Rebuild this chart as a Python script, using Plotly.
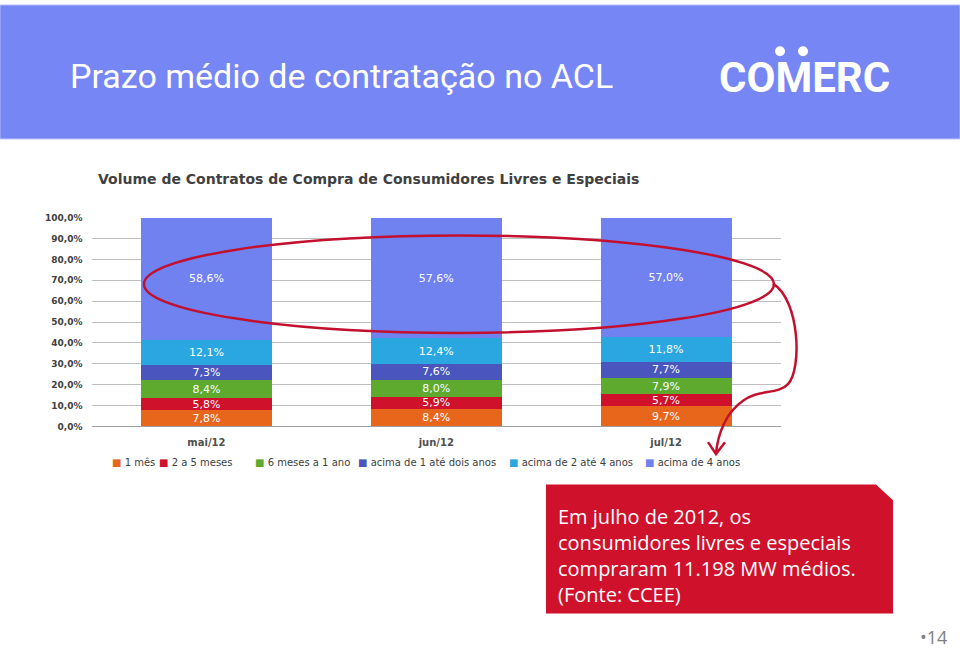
import plotly.graph_objects as go

# ---------------- data ----------------
categories = ["mai/12", "jun/12", "jul/12"]
series_names = ["1 mês", "2 a 5 meses", "6 meses a 1 ano",
                "acima de 1 até dois anos", "acima de 2 até 4 anos", "acima de 4 anos"]
v_1mes = [7.8, 8.4, 9.7]
v_2a5 = [5.8, 5.9, 5.7]
v_6m1a = [8.4, 8.0, 7.9]
v_1a2 = [7.3, 7.6, 7.7]
v_2a4 = [12.1, 12.4, 11.8]
v_4mais = [58.6, 57.6, 57.0]
series_values = [v_1mes, v_2a5, v_6m1a, v_1a2, v_2a4, v_4mais]
y_ticks = [0, 10, 20, 30, 40, 50, 60, 70, 80, 90, 100]
y_tick_labels = ["0,0%", "10,0%", "20,0%", "30,0%", "40,0%", "50,0%",
                 "60,0%", "70,0%", "80,0%", "90,0%", "100,0%"]

colors = ["#E8661C", "#D0112B", "#5DAA2F", "#4B55BE", "#2AA7E0", "#7081F0"]
legend_x_px = [110, 157, 253, 356, 507, 643]

W, H = 960, 650


def px(x):
    return x / W


def py(y):
    return 1 - y / H


def pt(p):
    return "%.5f,%.5f" % (px(p[0]), py(p[1]))


fig = go.Figure()
for name, vals, col in zip(series_names, series_values, colors):
    fig.add_trace(go.Bar(
        x=categories, y=vals, name=name,
        marker=dict(color=col, line=dict(width=0)),
        texttemplate="%{y:.1f}%", textposition="inside",
        insidetextanchor="middle",
        textfont=dict(color="white", size=11, family="DejaVu Sans"),
        width=0.57, hoverinfo="skip", showlegend=False,
    ))

shapes = []
# header band
shapes.append(dict(type="rect", xref="paper", yref="paper",
                   x0=0, x1=1, y0=py(136), y1=1,
                   fillcolor="#7686F4", line=dict(color="#B4BDF2", width=1)))
# logo dots
for cx in (780, 803):
    shapes.append(dict(type="circle", xref="paper", yref="paper",
                       x0=px(cx - 5), x1=px(cx + 5), y0=py(52), y1=py(42),
                       fillcolor="white", line=dict(width=0)))
# red ellipse
shapes.append(dict(type="circle", xref="paper", yref="paper",
                   x0=px(144), x1=px(774), y0=py(333), y1=py(234),
                   line=dict(color="#C3102F", width=2.5)))
# curved arrow
shapes.append(dict(type="path", xref="paper", yref="paper",
                   path="M " + pt((773, 283))
                   + " C " + pt((800, 300)) + " " + pt((802, 370)) + " " + pt((788, 385))
                   + " C " + pt((778, 396)) + " " + pt((758, 390)) + " " + pt((743, 402))
                   + " C " + pt((726, 414)) + " " + pt((718, 435)) + " " + pt((716, 455)),
                   line=dict(color="#C3102F", width=2.5)))
shapes.append(dict(type="path", xref="paper", yref="paper",
                   path="M " + pt((708, 444)) + " L " + pt((716, 456)) + " L " + pt((725, 444)),
                   line=dict(color="#C3102F", width=2.5)))
# red callout box
shapes.append(dict(type="path", xref="paper", yref="paper",
                   path="M " + pt((546, 487)) + " L " + pt((876, 487)) + " L " + pt((893, 503))
                   + " L " + pt((893, 618)) + " L " + pt((546, 618)) + " Z",
                   fillcolor="#D0112B", line=dict(width=0)))

annotations = [
    dict(text="Prazo médio de contratação no ACL", x=px(68), y=py(72),
         xref="paper", yref="paper", xanchor="left", yanchor="middle", showarrow=False,
         font=dict(family="Roboto", size=34, color="white")),
    dict(text="<b>COMERC</b>", x=px(804), y=py(74),
         xref="paper", yref="paper", xanchor="center", yanchor="middle", showarrow=False,
         font=dict(family="Roboto", size=42, color="white")),
    dict(text="<b>Volume de Contratos de Compra de Consumidores Livres e Especiais</b>",
         x=px(96), y=py(177), xref="paper", yref="paper", xanchor="left", yanchor="middle",
         showarrow=False, font=dict(family="DejaVu Sans", size=14, color="#404040")),
    dict(text="Em julho de 2012, os<br>consumidores livres e especiais<br>compraram 11.198 MW médios.<br>(Fonte: CCEE)",
         x=px(556), y=py(504), xref="paper", yref="paper", xanchor="left", yanchor="top",
         align="left", showarrow=False,
         font=dict(family="Open Sans", size=20, color="white")),
    dict(text="•14", x=px(949), y=py(642), xref="paper", yref="paper",
         xanchor="right", yanchor="middle", showarrow=False,
         font=dict(family="Open Sans", size=18, color="#808080")),
]

# legend (small coloured squares followed by series names)
for name, col, lx in zip(series_names, colors, legend_x_px):
    annotations.append(dict(
        text='<span style="color:%s">■</span> %s' % (col, name),
        x=px(lx), y=py(465), xref="paper", yref="paper", xanchor="left", yanchor="middle",
        showarrow=False, font=dict(family="DejaVu Sans", size=10, color="#404040")))

fig.update_layout(
    width=W, height=H,
    margin=dict(l=0, r=0, t=0, b=0),
    paper_bgcolor="white", plot_bgcolor="white",
    barmode="stack",
    separators=",.",
    showlegend=False,
    uniformtext=dict(minsize=11, mode="show"),
    xaxis=dict(domain=[px(91.5), px(781)], range=[-0.5, 2.5],
               showgrid=False, zeroline=False, showline=False, ticks="",
               ticklabelstandoff=9,
               tickfont=dict(family="DejaVu Sans", size=10, color="#505050", weight="bold"),
               fixedrange=True),
    yaxis=dict(domain=[py(428), py(216)], range=[0, 100],
               tickvals=y_ticks, ticktext=y_tick_labels,
               showgrid=True, gridcolor="#BFBFBF", gridwidth=1,
               zeroline=True, zerolinecolor="#A0A0A0", zerolinewidth=1.5,
               showline=False, ticks="", ticklabelstandoff=8,
               tickfont=dict(family="DejaVu Sans", size=9, color="#404040", weight="bold"),
               fixedrange=True),
    shapes=shapes,
    annotations=annotations,
)

fig.write_html(
    "out.html",
    config={"displayModeBar": False, "staticPlot": True},
    post_script=(
        "document.documentElement.style.margin='0px';"
        "document.documentElement.style.overflow='hidden';"
        "document.body.style.margin='0px';"
        "document.body.style.overflow='hidden';"
        "var d=document.getElementById('{plot_id}');"
        "d.style.position='absolute';d.style.left='0px';d.style.top='0px';"
    ),
)
